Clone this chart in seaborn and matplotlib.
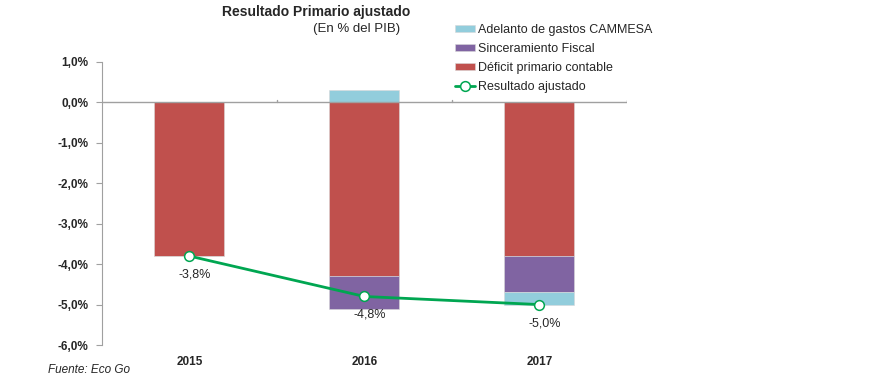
import numpy as np
import pandas as pd
import seaborn as sns
import matplotlib.pyplot as plt
from matplotlib.ticker import FuncFormatter

years = ["2015", "2016", "2017"]
deficit_contable = [-3.8, -4.3, -3.8]
sinceramiento = [0.0, -0.8, -0.9]
cammesa = [0.0, 0.3, -0.3]
resultado = [-3.8, -4.8, -5.0]

c_cammesa = "#92CDDC"
c_sinc = "#8064A2"
c_def = "#C0504D"
c_line = "#00A651"

sns.set_style("white")
plt.rcParams["font.family"] = ["Liberation Sans", "DejaVu Sans"]

fig = plt.figure(figsize=(8.92, 3.87), dpi=100)
ax = fig.add_axes([0.1143, 0.1085, 0.5886, 0.7313])

x = np.arange(len(years))
w = 0.4
defs = np.array(deficit_contable)
sinc = np.array(sinceramiento)
cam = np.array(cammesa)

bar_kw = dict(width=w, edgecolor="#D8D8D8", linewidth=0.4, zorder=2)
ax.bar(x, defs, color=c_def, label="Déficit primario contable", **bar_kw)
ax.bar(x, sinc, bottom=defs, color=c_sinc, label="Sinceramiento Fiscal", **bar_kw)
cam_bottom = np.where(cam < 0, defs + sinc, 0.0)
ax.bar(x, cam, bottom=cam_bottom, color=c_cammesa, label="Adelanto de gastos CAMMESA", **bar_kw)

df = pd.DataFrame({"x": x, "resultado": resultado})
sns.lineplot(data=df, x="x", y="resultado", ax=ax, color=c_line, lw=2,
             marker="o", markersize=7, markerfacecolor="white",
             markeredgecolor=c_line, markeredgewidth=1.1,
             label="Resultado ajustado", zorder=4)

for xi, v in zip(x, resultado):
    ax.annotate(f"{v:.1f}%".replace(".", ","), (xi, v), xytext=(4, -9),
                textcoords="offset points", ha="center", va="top", fontsize=9)

ax.set_xlim(-0.5, 2.5)
ax.set_ylim(-6, 1)
ax.set_yticks(np.arange(-6, 1.01, 1))
ax.yaxis.set_major_formatter(FuncFormatter(lambda v, p: f"{v:.1f}%".replace(".", ",")))
ax.set_xticks(x)
ax.set_xticklabels(years, fontweight="bold", fontsize=8.5)
for t in ax.get_yticklabels():
    t.set_fontweight("bold")
    t.set_fontsize(8.5)
ax.tick_params(axis="x", length=0, pad=8)
ax.tick_params(axis="y", length=4, color="#A0A0A0", direction="out", left=True, pad=6)
ax.set_xlabel("")
ax.set_ylabel("")

for s in ["top", "right", "bottom"]:
    ax.spines[s].set_visible(False)
ax.spines["left"].set_color("#A0A0A0")
ax.axhline(0, color="#A0A0A0", lw=1, zorder=3)
for b in [0.5, 1.5, 2.5]:
    ax.plot([b, b], [0, 0.07], color="#A0A0A0", lw=1, zorder=3)

handles, labels = ax.get_legend_handles_labels()
order = ["Adelanto de gastos CAMMESA", "Sinceramiento Fiscal",
         "Déficit primario contable", "Resultado ajustado"]
hmap = dict(zip(labels, handles))
ax.legend([hmap[k] for k in order], order, loc="upper left",
          bbox_to_anchor=(450 / 892, 1 - 19 / 387), bbox_transform=fig.transFigure,
          frameon=False, fontsize=9, handlelength=1.6, handleheight=0.5,
          handletextpad=0.2, labelspacing=0.55, borderaxespad=0)

fig.text(316 / 892, 1 - 12 / 387, "Resultado Primario ajustado", ha="center",
         va="center", fontsize=10, fontweight="bold")
fig.text(357 / 892, 1 - 29 / 387, "(En % del PIB)", ha="center", va="center", fontsize=9.5)
fig.text(48 / 892, 1 - 370 / 387, "Fuente: Eco Go", ha="left", va="center",
         fontsize=8.5, style="italic")

fig.savefig("out.png", dpi=100)
